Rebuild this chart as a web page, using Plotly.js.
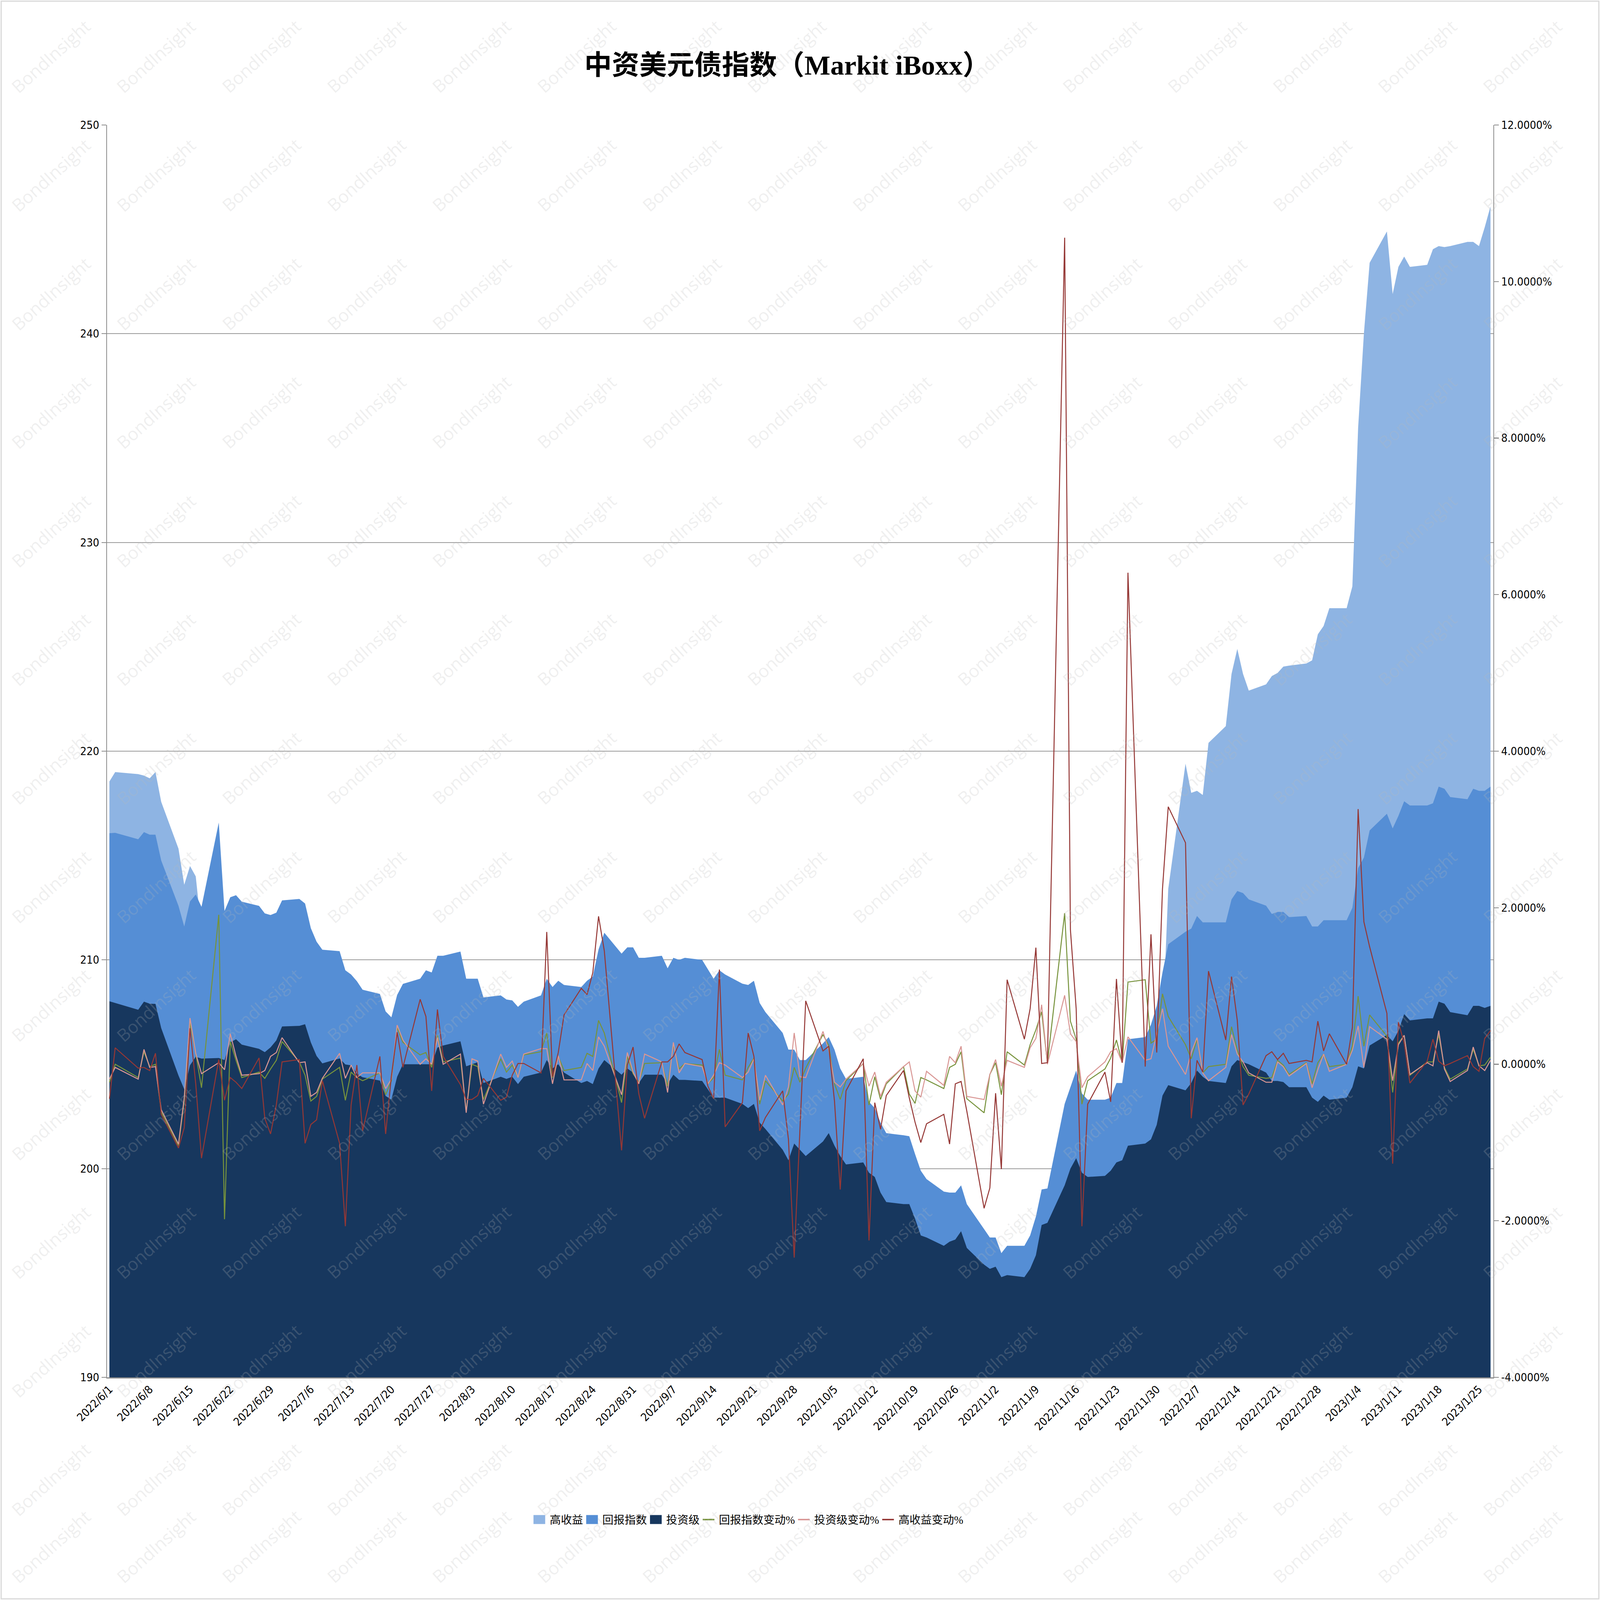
<!DOCTYPE html>
<html>
<head>
<meta charset="utf-8">
<script src="https://cdn.plot.ly/plotly-3.0.1.min.js"></script>
<style>
html,body{margin:0;padding:0;background:#fff;overflow:hidden;}
#chart{position:absolute;left:0;top:0;}
</style>
</head>
<body>
<div id="chart"></div>
<script>
const dates = [
"2022-06-01","2022-06-02","2022-06-06","2022-06-07","2022-06-08","2022-06-09","2022-06-10","2022-06-13","2022-06-14","2022-06-15","2022-06-16","2022-06-17","2022-06-20","2022-06-21","2022-06-22","2022-06-23","2022-06-24","2022-06-27","2022-06-28","2022-06-29","2022-06-30",
"2022-07-01","2022-07-04","2022-07-05","2022-07-06","2022-07-07","2022-07-08","2022-07-11","2022-07-12","2022-07-13","2022-07-14","2022-07-15","2022-07-18","2022-07-19","2022-07-20","2022-07-21","2022-07-22","2022-07-25","2022-07-26","2022-07-27","2022-07-28","2022-07-29",
"2022-08-01","2022-08-02","2022-08-03","2022-08-04","2022-08-05","2022-08-08","2022-08-09","2022-08-10","2022-08-11","2022-08-12","2022-08-15","2022-08-16","2022-08-17","2022-08-18","2022-08-19","2022-08-22","2022-08-23","2022-08-24","2022-08-25","2022-08-26","2022-08-29","2022-08-30","2022-08-31",
"2022-09-01","2022-09-02","2022-09-05","2022-09-06","2022-09-07","2022-09-08","2022-09-09","2022-09-12","2022-09-13","2022-09-14","2022-09-15","2022-09-16","2022-09-19","2022-09-20","2022-09-21","2022-09-22","2022-09-23","2022-09-26","2022-09-27","2022-09-28","2022-09-29","2022-09-30",
"2022-10-03","2022-10-04","2022-10-05","2022-10-06","2022-10-07","2022-10-10","2022-10-11","2022-10-12","2022-10-13","2022-10-14","2022-10-17","2022-10-18","2022-10-19","2022-10-20","2022-10-21","2022-10-24","2022-10-25","2022-10-26","2022-10-27","2022-10-28","2022-10-31",
"2022-11-01","2022-11-02","2022-11-03","2022-11-04","2022-11-07","2022-11-08","2022-11-09","2022-11-10","2022-11-11","2022-11-14","2022-11-15","2022-11-16","2022-11-17","2022-11-18","2022-11-21","2022-11-22","2022-11-23","2022-11-24","2022-11-25","2022-11-28","2022-11-29","2022-11-30",
"2022-12-01","2022-12-02","2022-12-05","2022-12-06","2022-12-07","2022-12-08","2022-12-09","2022-12-12","2022-12-13","2022-12-14","2022-12-15","2022-12-16","2022-12-19","2022-12-20","2022-12-21","2022-12-22","2022-12-23","2022-12-26","2022-12-27","2022-12-28","2022-12-29","2022-12-30",
"2023-01-02","2023-01-03","2023-01-04","2023-01-05","2023-01-06","2023-01-09","2023-01-10","2023-01-11","2023-01-12","2023-01-13","2023-01-16","2023-01-17","2023-01-18","2023-01-19","2023-01-20","2023-01-23","2023-01-24","2023-01-25","2023-01-26","2023-01-27"
];

// 高收益
const highYield = [
218.55,219.0,218.9,218.83,218.7,219.0,217.57,215.33,213.6,214.5,214.0,211.4,211.5,210.5,210.2,209.7,209.0,209.2,207.8,205.9,204.8,
204.9,205.0,202.9,201.4,200.0,199.6,197.6,193.5,192.5,192.5,190.9,191.1,189.4,189.1,189.9,189.8,191.4,192.5,191.9,193.2,193.4,
192.9,192.0,191.2,190.4,190.1,189.2,188.4,188.2,188.2,188.2,188.0,191.2,190.9,191.2,192.4,194.3,196.0,198.3,202.0,205.0,202.7,202.7,203.1,
202.3,200.9,201.0,201.1,201.3,201.8,202.1,202.2,201.6,200.7,203.1,201.5,200.5,201.3,201.5,199.8,198.4,197.7,195.8,191.0,189.5,191.0,
191.4,191.8,190.9,187.9,187.2,187.4,183.2,182.3,180.8,180.1,179.9,179.2,177.8,176.0,174.7,173.6,171.8,171.4,171.0,170.0,166.9,
164.3,163.7,161.5,163.2,163.7,164.9,167.4,167.4,167.4,185.1,188.3,189.6,185.7,184.8,184.6,183.7,185.7,185.7,198.0,198.5,201.8,202.1,
206.6,213.4,219.4,218.0,218.1,217.9,220.4,221.2,223.7,224.9,223.7,222.9,223.2,223.6,223.75,224.05,224.1,224.2,224.35,225.6,226.0,226.85,
226.85,227.9,235.5,240.0,243.4,244.9,241.9,243.2,243.7,243.2,243.3,244.05,244.2,244.15,244.2,244.4,244.4,244.2,245.1,246.1
];

// 回报指数
const returnIndex = [
216.07,216.09,215.78,216.12,216.0,216.0,214.76,212.59,211.6,212.8,213.13,212.54,216.58,212.34,213.0,213.1,212.79,212.59,212.23,212.15,212.26,
212.85,212.92,212.7,211.52,210.87,210.49,210.42,209.5,209.3,208.98,208.57,208.37,207.53,207.25,208.32,208.85,209.1,209.5,209.4,210.2,210.2,
210.4,209.1,209.1,209.1,208.2,208.3,208.1,208.06,207.75,208.0,208.3,209.1,208.7,209.0,208.8,208.7,209.0,209.2,210.5,211.3,210.3,210.6,210.6,
210.1,210.1,210.2,209.6,210.1,210.0,210.1,210.0,209.55,209.1,209.5,209.3,208.86,208.8,209.0,207.94,207.5,206.5,205.7,205.7,205.2,205.2,
206.0,206.3,205.7,204.8,204.3,204.4,203.2,202.9,202.2,201.7,201.6,201.55,200.7,199.9,199.5,198.9,198.85,198.85,199.2,198.3,197.1,
196.7,196.7,195.95,196.3,196.3,196.8,197.7,199.0,199.05,203.1,203.9,204.7,203.6,203.3,203.3,203.4,204.1,204.1,206.2,206.3,206.9,207.8,
209.4,210.75,211.35,211.5,212.1,211.8,211.8,211.8,212.9,213.3,213.2,212.9,212.6,212.2,212.3,212.3,212.05,212.1,211.6,211.6,211.9,211.9,
211.9,212.5,214.4,214.9,216.2,217.0,216.3,216.9,217.6,217.4,217.4,217.5,218.3,218.2,217.8,217.7,218.2,218.1,218.1,218.3
];

// 投资级
const investGrade = [
208.02,207.94,207.61,208.0,207.9,207.89,206.73,204.46,203.8,204.95,205.36,205.27,205.3,205.2,206.05,206.2,205.94,205.74,205.58,205.81,206.14,
206.81,206.84,206.92,206.05,205.4,205.04,205.28,204.99,204.95,204.54,204.38,204.22,203.48,203.31,204.4,205.0,205.0,205.0,205.0,205.8,205.9,
206.1,204.9,205.0,205.1,204.1,204.4,204.3,204.4,204.05,204.4,204.6,205.2,204.8,205.0,204.6,204.1,204.2,204.05,204.8,205.2,204.5,204.8,204.6,
204.1,204.5,204.5,204.05,204.5,204.25,204.25,204.2,203.8,203.4,203.4,203.4,203.1,202.9,203.1,202.2,201.9,200.9,200.4,201.2,200.9,200.6,
201.3,201.7,201.1,200.6,200.2,200.3,199.8,199.6,198.85,198.4,198.3,198.3,197.6,196.8,196.7,196.3,196.5,196.6,197.0,196.2,195.4,
195.2,195.3,194.8,194.9,194.8,195.2,195.85,197.3,197.4,199.2,200.0,200.5,199.8,199.6,199.65,199.9,200.3,200.4,201.1,201.2,201.4,202.1,
203.5,204.0,203.75,204.1,204.7,204.4,204.2,204.1,204.9,205.2,205.1,205.0,204.6,204.2,204.2,204.15,203.9,203.9,203.4,203.2,203.5,203.3,
203.4,203.9,204.9,204.8,205.9,206.4,206.1,206.6,207.4,207.1,207.2,207.2,208.0,207.9,207.5,207.35,207.8,207.8,207.7,207.8
];

// 回报指数变动% (in percent)
const returnChg = [
-0.23,0.0,-0.17,0.16,-0.03,0.0,-0.61,-1.04,-0.47,0.53,0.14,-0.30,1.91,-1.98,0.29,0.05,-0.17,-0.10,-0.18,-0.06,0.05,
0.29,0.03,-0.14,-0.47,-0.41,-0.19,-0.04,-0.46,-0.10,-0.17,-0.21,-0.11,-0.39,-0.21,0.47,0.28,0.12,0.15,-0.04,0.37,0.03,
0.08,-0.60,0.0,-0.03,-0.45,0.07,-0.10,-0.01,-0.17,0.12,0.16,0.40,-0.17,0.10,-0.08,-0.04,0.14,0.10,0.56,0.40,-0.49,0.10,-0.12,
-0.23,0.01,0.02,-0.28,0.25,-0.06,0.01,-0.01,-0.25,-0.17,0.19,-0.14,-0.20,-0.04,0.08,-0.51,-0.21,-0.47,-0.38,-0.04,-0.23,-0.05,
0.38,0.24,-0.25,-0.45,-0.21,0.01,-0.52,-0.16,-0.45,-0.25,-0.03,-0.38,-0.5,-0.17,-0.20,-0.31,-0.04,0.0,0.16,-0.44,-0.62,
-0.13,0.02,-0.39,0.16,-0.01,0.25,0.44,0.67,0.02,1.93,0.55,0.32,-0.51,-0.21,-0.06,0.08,0.31,0.02,1.05,1.08,0.27,0.32,
0.90,0.61,0.25,0.07,0.32,-0.11,-0.03,0.0,0.48,0.18,-0.03,-0.14,-0.18,-0.17,0.05,-0.01,-0.13,0.02,-0.25,0.02,0.13,-0.03,
0.0,0.23,0.87,0.23,0.63,0.36,-0.36,0.27,0.37,-0.14,0.03,0.03,0.38,-0.04,-0.19,-0.06,0.19,-0.02,-0.01,0.09
];

// 投资级变动%
const investChg = [
-0.19,-0.04,-0.19,0.19,-0.04,-0.03,-0.58,-1.02,-0.43,0.59,0.14,-0.12,0.02,-0.07,0.39,0.10,-0.14,-0.12,-0.08,0.10,0.15,
0.34,0.02,0.03,-0.41,-0.36,-0.18,0.14,-0.18,-0.01,-0.17,-0.11,-0.11,-0.31,-0.19,0.50,0.31,0.0,0.07,0.0,0.34,0.0,
0.13,-0.62,0.07,0.04,-0.51,0.13,-0.04,0.04,-0.17,0.13,0.20,0.20,-0.25,0.11,-0.20,-0.20,0.01,-0.08,0.35,0.23,-0.39,0.15,-0.10,
-0.25,0.13,0.03,-0.36,0.28,-0.11,0.01,-0.03,-0.25,-0.14,0.02,-0.01,-0.17,-0.10,0.07,-0.46,-0.14,-0.52,-0.29,0.40,-0.16,-0.17,
0.42,0.18,-0.23,-0.29,-0.19,0.01,-0.28,-0.10,-0.41,-0.23,-0.03,0.03,-0.34,-0.42,-0.09,-0.27,0.10,0.02,0.23,-0.41,-0.45,
-0.13,0.06,-0.28,0.05,-0.04,0.21,0.33,0.76,0.0,0.88,0.39,0.29,-0.30,-0.16,0.03,0.16,0.20,0.02,0.35,0.05,0.07,0.39,
0.71,0.23,-0.13,0.15,0.34,-0.11,-0.21,-0.04,0.38,0.13,0.03,-0.11,-0.23,-0.23,0.03,-0.03,-0.15,0.01,-0.30,-0.07,0.13,-0.09,
0.0,0.18,0.49,-0.04,0.48,0.32,-0.21,0.25,0.37,-0.13,0.02,-0.02,0.43,-0.06,-0.22,-0.08,0.22,-0.02,-0.08,0.05
];

// 高收益变动%
const highYieldChg = [
-0.44,0.21,-0.05,-0.04,-0.08,0.14,-0.64,-1.07,-0.81,0.46,-0.25,-1.20,0.06,-0.46,-0.17,-0.23,-0.31,0.08,-0.69,-0.89,-0.52,
0.03,0.06,-1.01,-0.77,-0.71,-0.21,-1.01,-2.07,-0.52,-0.01,-0.85,0.10,-0.89,-0.15,0.41,-0.04,0.83,0.61,-0.34,0.70,0.10,
-0.26,-0.45,-0.45,-0.40,-0.18,-0.46,-0.42,-0.14,0.01,0.01,-0.11,1.69,-0.16,0.15,0.63,0.97,0.89,1.17,1.89,1.45,-1.10,-0.01,0.22,
-0.38,-0.69,0.03,0.03,0.10,0.26,0.15,0.06,-0.28,-0.44,1.21,-0.80,-0.49,0.40,0.10,-0.85,-0.68,-0.34,-0.96,-2.47,-0.80,0.81,
0.17,0.23,-0.47,-1.60,-0.34,0.07,-2.25,-0.49,-0.83,-0.40,-0.08,-0.43,-0.74,-1.0,-0.76,-0.64,-1.02,-0.25,-0.22,-0.60,-1.84,
-1.58,-0.37,-1.34,1.08,0.32,0.71,1.49,0.01,0.02,10.56,1.72,0.71,-2.07,-0.51,-0.10,-0.48,1.09,0.02,6.28,-0.03,1.66,0.15,
2.24,3.29,2.83,-0.69,0.05,-0.10,1.19,0.31,1.12,0.56,-0.52,-0.38,0.11,0.16,0.06,0.14,0.01,0.05,0.03,0.55,0.17,0.39,
0.0,0.47,3.26,1.82,1.50,0.65,-1.27,0.54,0.27,-0.24,0.04,0.32,0.04,-0.02,0.01,0.11,-0.03,-0.09,0.33,0.43
];

const seriesNames = ["高收益","回报指数","投资级","回报指数变动%","投资级变动%","高收益变动%"];
const leftTickVals = [190,200,210,220,230,240,250];
const leftTickText = ["190","200","210","220","230","240","250"];
const rightTickVals = [-4,-2,0,2,4,6,8,10,12];
const rightTickText = ["-4.0000%","-2.0000%","0.0000%","2.0000%","4.0000%","6.0000%","8.0000%","10.0000%","12.0000%"];
const titleText = "中资美元债指数（Markit iBoxx）";
const watermarkText = "BondInsight";

// ---------- sizing: reference frame 5465 x 4466, scaled to the actual window ----------
const RW = 5465, RH = 4466;
const W = window.innerWidth || RW, H = window.innerHeight || RH;
const sx = W / RW, sy = H / RH, sf = sx;
const M = {l:Math.round(366*sx), r:Math.round(364*sx), t:Math.round(349*sy), b:Math.round(621*sy)};
const PW = W - M.l - M.r, PH = H - M.t - M.b;
const tickFont = {family:"Liberation Sans Narrow, DejaVu Sans Condensed, Liberation Sans, sans-serif", size:38*sf, color:"#000"};
const cjkFont = "Liberation Serif, Noto Sans CJK SC, serif";
const axisGray = "#8C8C8C";

function area(name, y, color){
  return {type:"scatter", mode:"lines", name:name, x:dates, y:y, fill:"tozeroy",
    fillcolor:color, line:{width:0, color:color}, hoverinfo:"skip", yaxis:"y"};
}
function line(name, y, color){
  return {type:"scatter", mode:"lines", name:name, x:dates, y:y, yaxis:"y2",
    line:{width:3.4*sf, color:color}, hoverinfo:"skip"};
}

const traces = [
  area(seriesNames[0], highYield, "#8EB4E3"),
  area(seriesNames[1], returnIndex, "#558ED5"),
  area(seriesNames[2], investGrade, "#17375E"),
  line(seriesNames[3], returnChg, "#77933C"),
  line(seriesNames[4], investChg, "#D99694"),
  line(seriesNames[5], highYieldChg, "#953735")
];

// faint diagonal watermark grid (decorative text of the reference)
const annotations = [];
for (let j = 0; j < 14; j++) {
  for (let i = 0; i < 15; i++) {
    const px = (174 + 359 * i) * sx;
    const py = Math.min(157 + 331 * j, RH - 150) * sy;
    annotations.push({
      xref:"paper", yref:"paper",
      x:(px - M.l) / PW, y:(H - M.b - py) / PH,
      text:watermarkText, showarrow:false, textangle:-42,
      font:{family:"Open Sans, DejaVu Sans, sans-serif", size:60*sf, color:"rgba(185,185,185,0.22)"},
      xanchor:"center", yanchor:"middle"
    });
  }
}

const layout = {
  width:W, height:H,
  paper_bgcolor:"#fff", plot_bgcolor:"#fff",
  margin:{l:M.l, r:M.r, t:M.t, b:M.b, pad:0},
  hovermode:false,
  title:{text:titleText, x:0.492, xanchor:"center", y:1 - 181 / RH, yanchor:"middle",
    font:{family:cjkFont, size:94*sf, color:"#000", weight:"bold"}},
  xaxis:{type:"date", range:["2022-05-31 14:00","2023-01-27 12:00"], tick0:"2022-06-01", dtick:7*86400000,
    tickformat:"%Y/%-m/%-d", tickangle:-45, tickfont:tickFont, showgrid:false,
    showline:true, linecolor:axisGray, linewidth:4*sf, ticks:"", zeroline:false, fixedrange:true},
  yaxis:{range:[190,250], tickvals:leftTickVals, ticktext:leftTickText, tickfont:tickFont,
    showgrid:true, gridcolor:"#9A9A9A", gridwidth:2.5*sf, showline:true, linecolor:axisGray, linewidth:3*sf,
    ticks:"outside", ticklen:16*sf, tickcolor:axisGray, tickwidth:3*sf, zeroline:false, fixedrange:true},
  yaxis2:{range:[-4,12], overlaying:"y", side:"right", tickvals:rightTickVals, ticktext:rightTickText,
    tickfont:tickFont, showgrid:false, showline:true, linecolor:axisGray, linewidth:3*sf,
    ticks:"outside", ticklen:16*sf, tickcolor:axisGray, tickwidth:3*sf, zeroline:false, fixedrange:true},
  showlegend:true,
  legend:{orientation:"h", x:(2558*sx - M.l) / PW, xanchor:"center", y:-(4242*sy - (H - M.b)) / PH, yanchor:"middle",
    font:{family:cjkFont, size:38*sf, color:"#000"}, itemwidth:Math.max(30, 46*sx), tracegroupgap:0, bgcolor:"rgba(0,0,0,0)"},
  shapes:[{type:"rect", xref:"paper", yref:"paper",
    x0:-(M.l - 3) / PW, x1:1 + (M.r - 3) / PW, y0:-(M.b - 3) / PH, y1:1 + (M.t - 3) / PH,
    line:{color:"#D9D9D9", width:4*sf}, fillcolor:"rgba(0,0,0,0)", layer:"below"}],
  annotations:annotations
};

// legend swatches styled like the reference: squares for areas, short thick bars for lines
function styleLegend(){
  const items = document.querySelectorAll("#chart .legend .traces");
  const w = 40 * sx, hSq = 25 * sy, x0 = 4 * sx;
  items.forEach(function(g, k){
    const fill = g.querySelector(".js-fill");
    const ln = g.querySelector(".js-line");
    if (k < 3) {
      if (fill) fill.setAttribute("d", "M" + x0 + "," + (-hSq/2) + "h" + w + "v" + hSq + "h" + (-w) + "z");
      if (ln) ln.style.strokeWidth = "0px";
    } else if (ln) {
      ln.setAttribute("d", "M" + x0 + ",0h" + w);
      ln.style.strokeWidth = (5 * sf) + "px";
    }
  });
}

Plotly.newPlot("chart", traces, layout, {staticPlot:true, displayModeBar:false}).then(styleLegend);
</script>
</body>
</html>
